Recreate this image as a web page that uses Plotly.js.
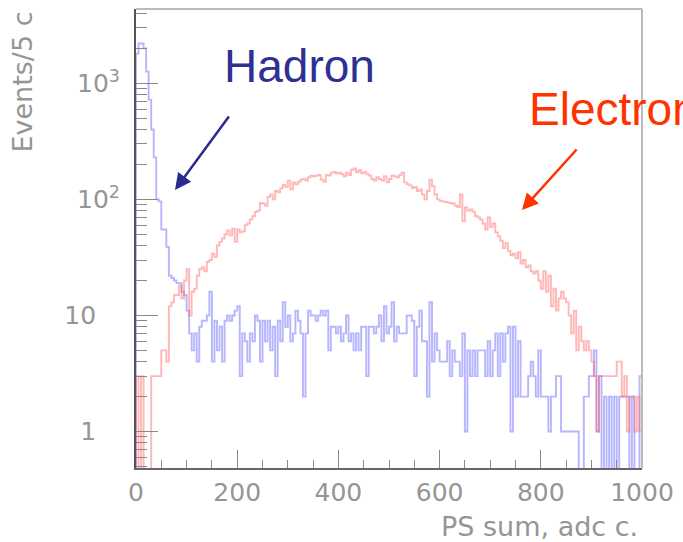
<!DOCTYPE html>
<html><head><meta charset="utf-8">
<script src="https://cdn.plot.ly/plotly-3.0.1.min.js"></script>
<style>html,body{margin:0;padding:0;background:#fff;overflow:hidden}</style>
</head><body><div id="chart" style="width:683px;height:542px"></div>
<script>
// ---- data ----
const BIN_WIDTH = 5;          // "Events/5 c"
const X_START = 0;
const hadronCounts = [
1800,2200,2200,2000,1260,720,400,230,100,96,
55,55,39,22,21,20,19,19,16,15,
11,7,5,7,4,8,9,9,10,16,
4,9,5,8,4,9,10,9,10,11,
12,3,7,6,4,7,6,10,9,4,
9,6,9,5,8,3,9,6,13,8,
10,6,7,11,9,7,2,7,11,10,
10,9,10,11,10,11,5,8,8,7,
8,6,7,10,6,7,5,7,5,8,
8,3,8,8,7,8,10,6,12,7,
8,13,6,8,7,7,7,10,10,9,
3,8,11,6,6,2,13,4,7,5,
4,4,4,6,3,5,4,4,3,7,
1,5,3,5,3,5,5,5,3,6,
3,5,7,3,7,4,7,8,1,8,
2,6,2,2,2,3,4,3,2,5,
2,2,2,1,2,2,3,3,1,1,
1,1,1,1,1,0,0,2,2,3,
3,5,1,3,0,2,0,2,0,2,
0,2,2,2,2,0,2,0,0,3
];
const electronCounts = [
3,0,3,0,0,0,3,3,3,3,
5,5,4,12,13,15,15,18,14,20,
25,10,16,17,22,25,26,24,29,30,
34,32,40,43,46,50,54,49,56,43,
55,52,53,60,62,67,72,78,80,93,
92,88,105,110,100,118,115,125,133,128,
145,122,140,135,142,148,150,145,155,160,
158,160,162,148,142,162,160,170,172,168,
170,165,158,170,162,180,185,172,178,168,
172,165,160,150,145,155,150,145,158,140,
150,160,158,155,162,170,140,135,132,125,
128,118,122,110,100,118,148,130,110,100,
97,96,95,94,93,92,88,86,110,65,
85,80,82,78,72,70,67,62,55,70,
58,62,52,48,44,38,42,36,33,34,
31,35,28,30,26,27,24,23,24,20,
17,24,16,22,12,17,11,14,16,14,
13,10,7,11,5,8,6,5,6,5,
4,3,1,3,3,3,3,3,3,3,
4,4,2,3,1,2,2,1,2,1
];
const yTickVals = [1, 10, 100, 1000];
const yTickText = ['1&nbsp;&nbsp;&nbsp;', '10&nbsp;&nbsp;&nbsp;', '10<sup>2</sup>', '10<sup>3</sup>'];
const yMinorVals = [0.5,0.6,0.7,0.8,0.9,2,3,4,5,6,7,8,9,20,30,40,50,60,70,80,90,200,300,400,500,600,700,800,900,2000,3000,4000];

// ---- build step outlines (empty bins drop below the axis, as in the original) ----
function stepPoints(counts) {
  const floor = 0.1;
  const x = [X_START], y = [floor];
  counts.forEach((c, i) => { x.push(X_START + i * BIN_WIDTH); y.push(c > 0 ? c : floor); });
  const last = counts[counts.length - 1];
  x.push(X_START + counts.length * BIN_WIDTH); y.push(last > 0 ? last : floor);
  x.push(X_START + counts.length * BIN_WIDTH); y.push(floor);
  return {x, y};
}
const h = stepPoints(hadronCounts);
const e = stepPoints(electronCounts);

const traces = [
  {x: h.x, y: h.y, type: 'scatter', mode: 'lines', line: {shape: 'hv', color: 'rgba(110,110,255,0.5)', width: 1.9}, hoverinfo: 'skip'},
  {x: e.x, y: e.y, type: 'scatter', mode: 'lines', line: {shape: 'hv', color: 'rgba(255,95,95,0.45)', width: 1.9}, hoverinfo: 'skip'}
];

const textGrey = '#959595';
const tickFont = {family: 'DejaVu Sans', size: 25, color: textGrey};
const layout = {
  width: 683, height: 542,
  margin: {l: 136, r: 41, t: 9, b: 74},
  paper_bgcolor: '#fff', plot_bgcolor: '#fff',
  showlegend: false,
  xaxis: {
    range: [0, 1000], tickmode: 'linear', tick0: 0, dtick: 200,
    ticks: 'inside', ticklen: 18, tickwidth: 1, tickcolor: '#888',
    minor: {tickmode: 'linear', tick0: 0, dtick: 50, ticks: 'inside', ticklen: 8, tickwidth: 1, tickcolor: '#888'},
    showline: true, linecolor: '#666', linewidth: 2,
    showgrid: false, zeroline: false, tickfont: tickFont, ticklabelstandoff: 1
  },
  yaxis: {
    type: 'log', range: [Math.log10(0.485), 3.64],
    tickmode: 'array', tickvals: yTickVals, ticktext: yTickText,
    ticks: 'inside', ticklen: 22, tickwidth: 1, tickcolor: '#888',
    minor: {tickmode: 'array', tickvals: yMinorVals, ticks: 'inside', ticklen: 11, tickwidth: 1, tickcolor: '#888'},
    showline: true, linecolor: '#555', linewidth: 2,
    showgrid: false, zeroline: false, tickfont: tickFont, ticklabelstandoff: 9
  },
  shapes: [
    {type: 'line', xref: 'paper', yref: 'paper', x0: 0, x1: 1, y0: 1, y1: 1, line: {color: '#bbb', width: 2}},
    {type: 'line', xref: 'paper', yref: 'paper', x0: 1, x1: 1, y0: 0, y1: 1, line: {color: '#bbb', width: 2}}
  ],
  annotations: [
    {text: 'Events/5 c', textangle: -90, xref: 'paper', yref: 'paper', x: -0.225, y: 0.998,
     xanchor: 'center', yanchor: 'top', showarrow: false, font: {family: 'DejaVu Sans', size: 27, color: textGrey}},
    {text: 'PS sum, adc c.', xref: 'paper', yref: 'paper', x: 0.996, y: -0.128,
     xanchor: 'right', yanchor: 'middle', showarrow: false, font: {family: 'DejaVu Sans', size: 27, color: textGrey}},
    {text: 'Hadron', xref: 'paper', yref: 'paper', x: 0.17, y: 0.876, xanchor: 'left', yanchor: 'middle',
     showarrow: false, font: {family: 'Liberation Sans', size: 46, color: '#2e3192'}},
    {text: 'Electron', xref: 'paper', yref: 'paper', x: 0.7727, y: 0.782, xanchor: 'left', yanchor: 'middle',
     showarrow: false, font: {family: 'Liberation Sans', size: 46, color: '#ff3300'}},
    {text: '', xref: 'paper', yref: 'paper', x: 0.0771, y: 0.6057, ax: 55, ay: -75,
     showarrow: true, arrowhead: 2, arrowsize: 1.3, arrowwidth: 2.5, arrowcolor: '#2b2b8f'},
    {text: '', xref: 'paper', yref: 'paper', x: 0.7628, y: 0.5621, ax: 56, ay: -62,
     showarrow: true, arrowhead: 2, arrowsize: 1.3, arrowwidth: 2.5, arrowcolor: '#ff3300'}
  ]
};
Plotly.newPlot('chart', traces, layout, {staticPlot: true, displayModeBar: false});
</script>
</body></html>
